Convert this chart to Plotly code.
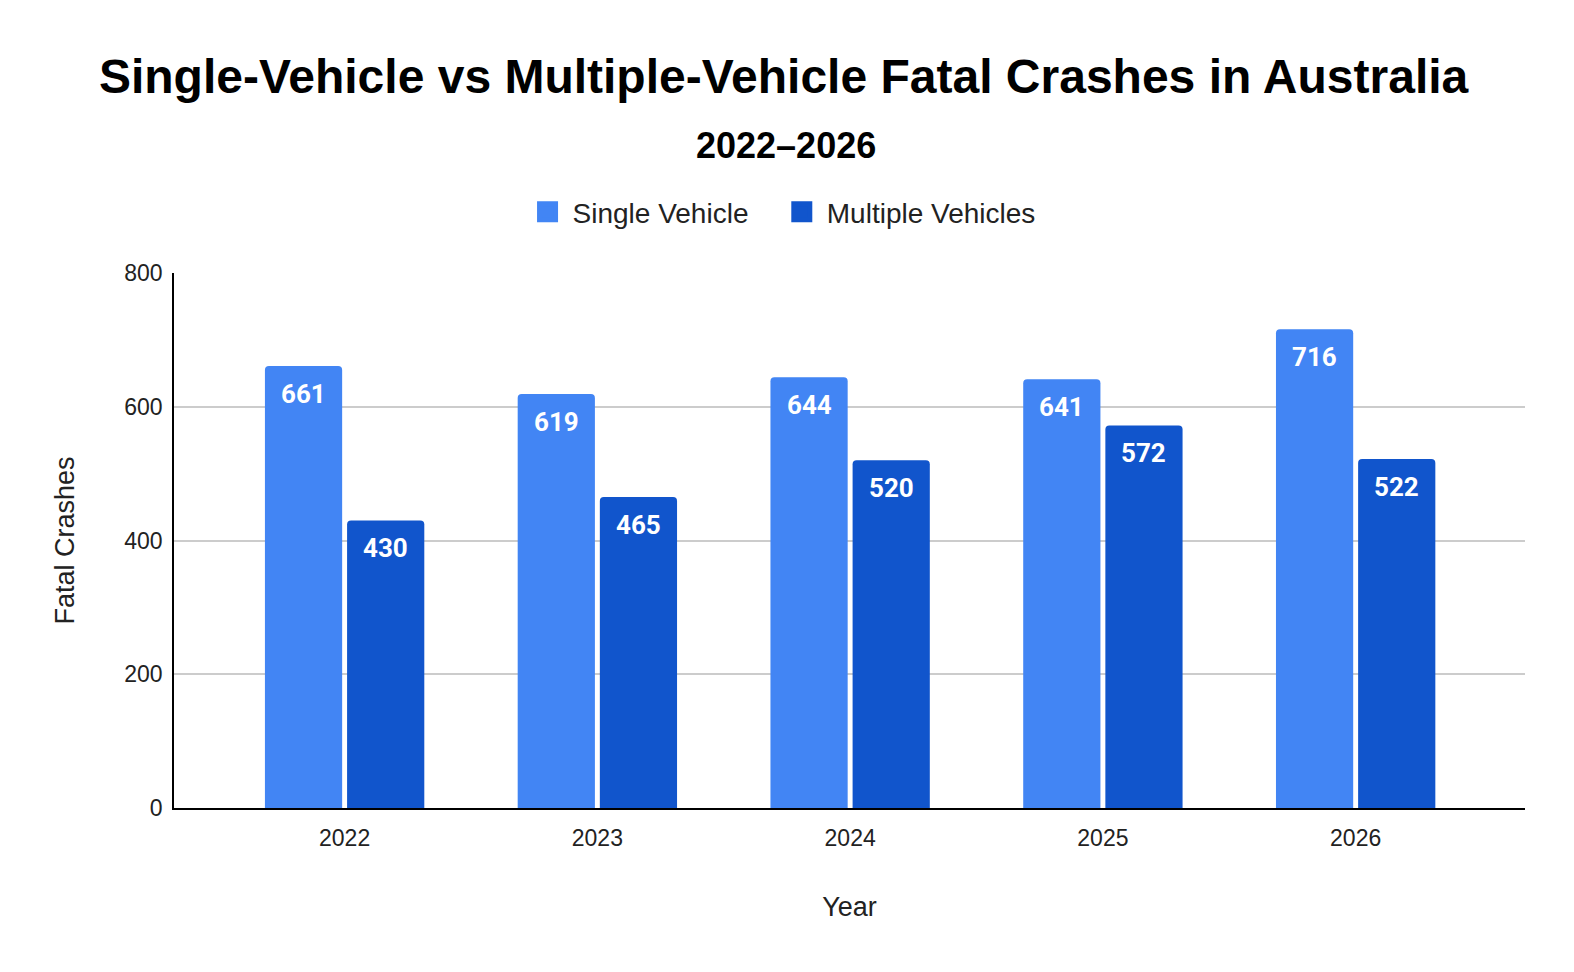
import plotly.graph_objects as go

# data
years = ["2022", "2023", "2024", "2025", "2026"]
single_vehicle = [661, 619, 644, 641, 716]
multiple_vehicles = [430, 465, 520, 572, 522]

series_names = ["Single Vehicle", "Multiple Vehicles"]
colors = ["#4285F4", "#1155CC"]

fig = go.Figure()

for name, vals, col in zip(series_names, [single_vehicle, multiple_vehicles], colors):
    fig.add_trace(go.Bar(x=years, y=vals, name=name, marker_color=col,
                         marker_line_width=0, showlegend=False, hoverinfo="x+y"))

# legend entries with bigger square markers (nbsp pads the gap between entries)
legend_names = [series_names[0] + "\u00a0\u00a0\u00a0", series_names[1]]
for name, col in zip(legend_names, colors):
    fig.add_trace(go.Scatter(x=[None], y=[None], mode="markers", name=name,
                             marker=dict(symbol="square", size=16, color=col,
                                         line=dict(width=5, color=col))))

# value labels inside the top of each bar (x given as category index)
labels = []
for vals, shift in [(single_vehicle, -41), (multiple_vehicles, 41)]:
    for i, v in enumerate(vals):
        labels.append(dict(x=i, y=v, text="<b>%d</b>" % v, showarrow=False,
                           xshift=shift, yshift=-28, yanchor="middle",
                           font=dict(family="Roboto", size=26, color="white")))

# subtitle
labels.append(dict(xref="paper", yref="paper", x=0.453, y=1.238, text="<b>2022–2026</b>",
                   showarrow=False, xanchor="center", yanchor="middle",
                   font=dict(family="Liberation Sans", size=36, color="black")))

fig.update_layout(
    width=1558, height=956,
    paper_bgcolor="white", plot_bgcolor="white",
    margin=dict(l=166, r=41, t=265, b=156),
    barmode="group", bargap=0.35, bargroupgap=0.06, barcornerradius=4,
    title=dict(text="<b>Single-Vehicle vs Multiple-Vehicle Fatal Crashes in Australia</b>",
               x=0.4978, xanchor="center", y=1 - 68 / 956, yanchor="middle",
               font=dict(family="Liberation Sans", size=48, color="black")),
    legend=dict(orientation="h", xref="container", yref="container",
                x=0.4965, xanchor="center", y=1 - 204 / 956, yanchor="middle",
                font=dict(family="Liberation Sans", size=28, color="#222"),
                itemwidth=40, itemclick=False),
    font=dict(family="Liberation Sans", color="black"),
    annotations=labels,
)

fig.update_xaxes(type="category", range=[-0.675, 4.67],
                 showline=True, linecolor="black", linewidth=1.5, ticks="",
                 ticklabelstandoff=9,
                 tickfont=dict(size=23, color="#222"),
                 title=dict(text="Year", font=dict(size=27, color="#222"), standoff=47))
fig.update_yaxes(range=[0, 800], tickvals=[0, 200, 400, 600, 800],
                 showgrid=True, gridcolor="#cccccc", gridwidth=1.5,
                 showline=True, linecolor="black", linewidth=1.5,
                 zeroline=False, ticks="", ticklabelstandoff=5,
                 tickfont=dict(size=23, color="#222"),
                 title=dict(text="Fatal Crashes", font=dict(size=27, color="#222"), standoff=42))

fig.write_html("out.html")
